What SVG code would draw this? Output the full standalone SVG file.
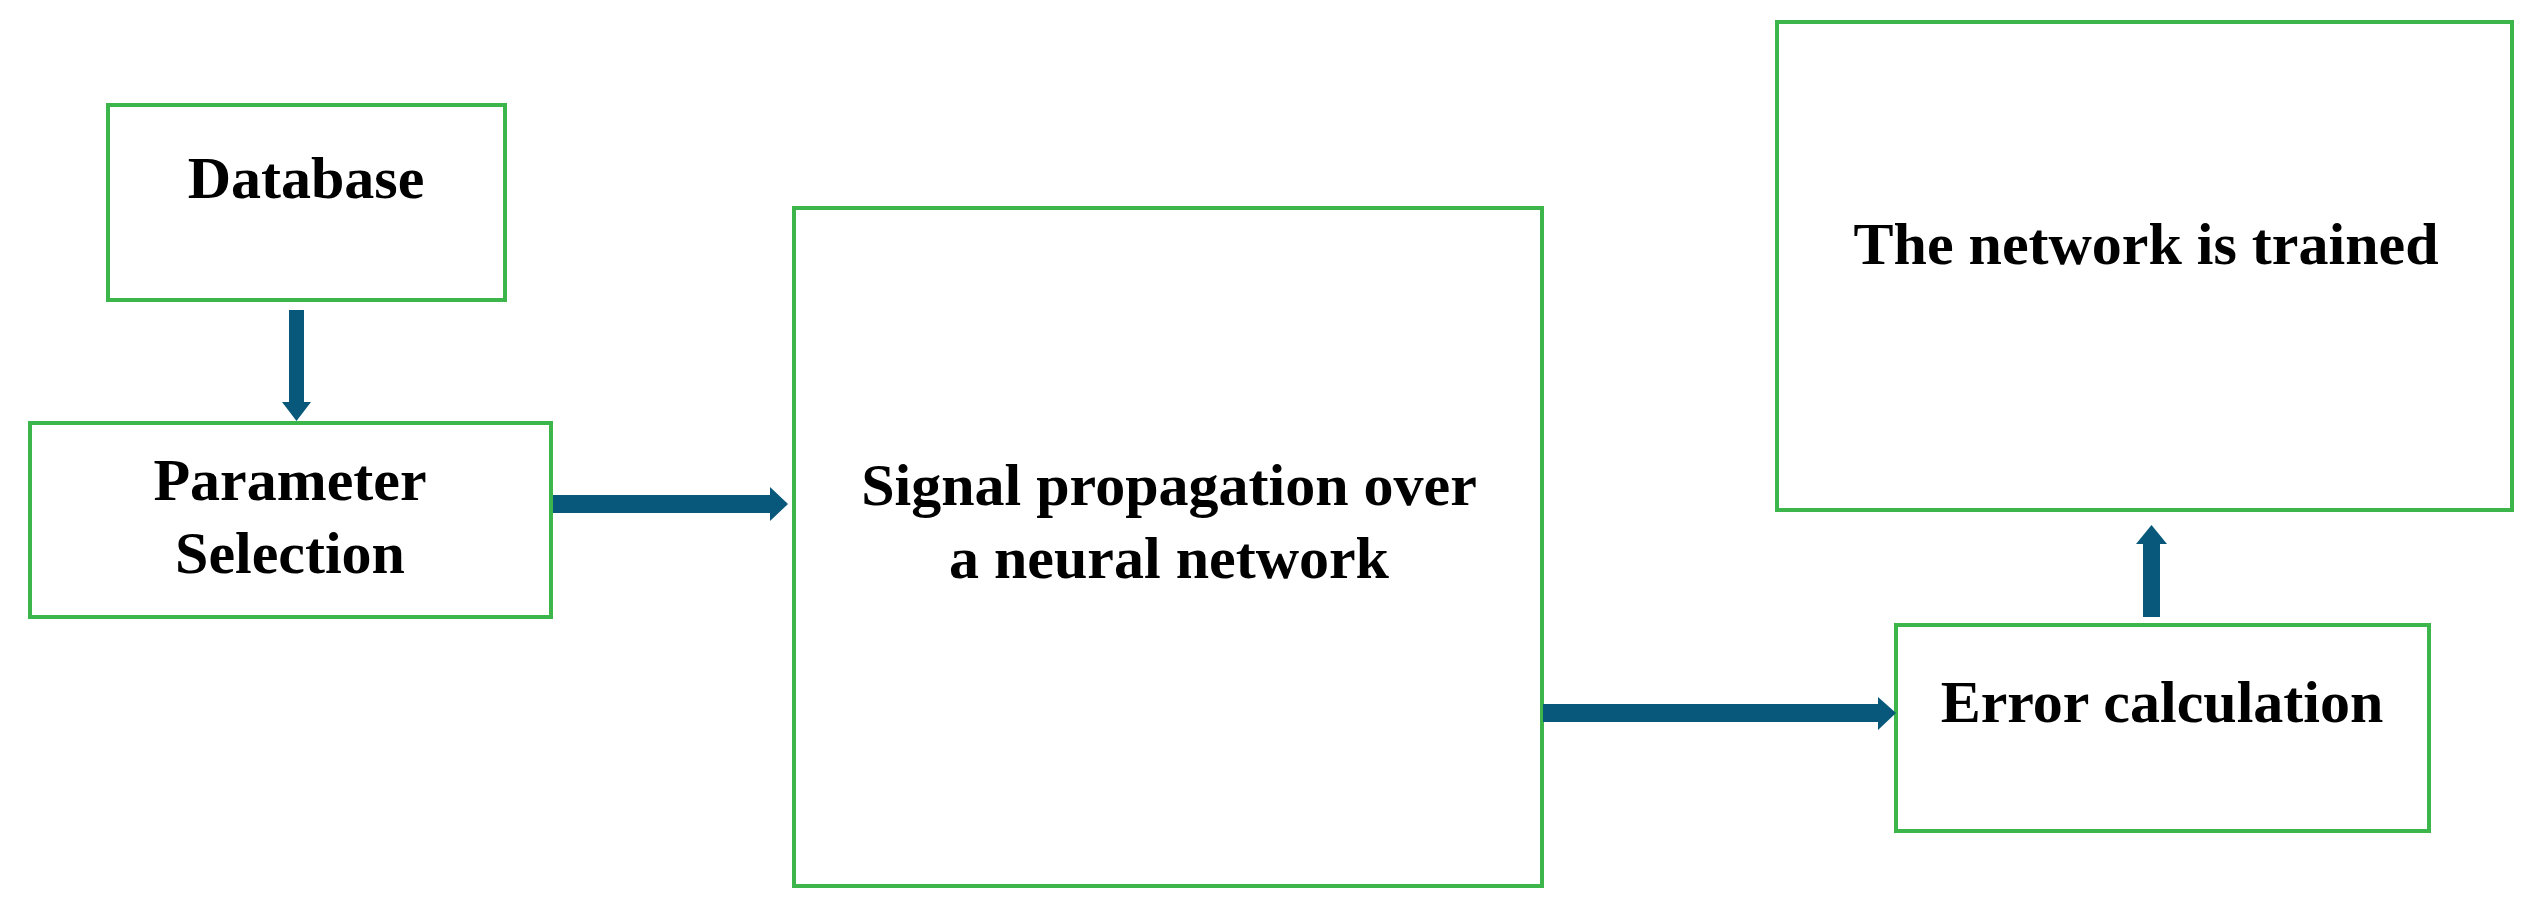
<svg xmlns="http://www.w3.org/2000/svg" width="2544" height="918" viewBox="0 0 2544 918">
<style>
.box{fill:#ffffff;stroke:#3cb54a;stroke-width:4}
.lbl{font-family:"Liberation Serif","Times New Roman",serif;font-weight:bold;font-size:60px;fill:#000000;text-anchor:middle}
.arr{fill:#07587a;stroke:none}
</style>
<rect width="2544" height="918" fill="#ffffff"/>
<g id="node-database">
<rect class="box" x="108" y="105" width="397" height="195"/>
<text class="lbl" x="306" y="198">Database</text>
</g>
<g id="node-parameter">
<rect class="box" x="30" y="423" width="521" height="194"/>
<text class="lbl" x="290" y="500">Parameter</text>
<text class="lbl" x="290" y="573">Selection</text>
</g>
<g id="node-signal">
<rect class="box" x="794" y="208" width="748" height="678"/>
<text class="lbl" x="1169" y="505">Signal propagation over</text>
<text class="lbl" x="1169" y="578">a neural network</text>
</g>
<g id="node-trained">
<rect class="box" x="1777" y="22" width="735" height="488"/>
<text class="lbl" x="2146" y="264">The network is trained</text>
</g>
<g id="node-error">
<rect class="box" x="1896" y="625" width="533" height="206"/>
<text class="lbl" x="2162" y="722">Error calculation</text>
</g>
<g id="connectors">
<polygon class="arr" points="289,310 304,310 304,402 311,402 296.5,421 282,402 289,402"/>
<polygon class="arr" points="553,495 770,495 770,487 788,504 770,521 770,513 553,513"/>
<polygon class="arr" points="1543,704 1878,704 1878,697 1896,713 1878,730 1878,722 1543,722"/>
<polygon class="arr" points="2143,617 2160,617 2160,544 2167,544 2151.5,525 2136,544 2143,544"/>
</g>
</svg>
